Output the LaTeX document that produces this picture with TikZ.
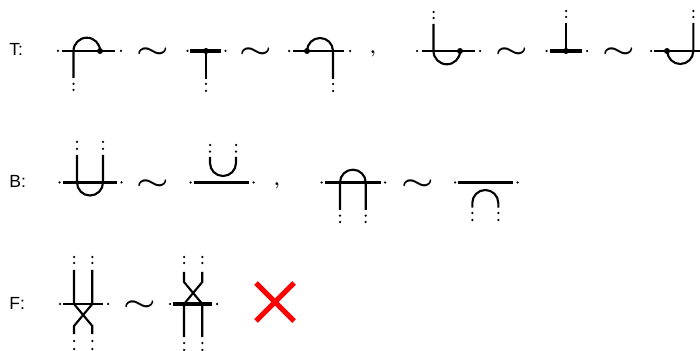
\documentclass[tikz,border=0pt]{standalone}
\usepackage{fontspec}
\usepackage{graphicx}
\setmainfont{Liberation Sans}

\newcommand{\simglyph}{\scalebox{1}[0.68]{\boldmath$\sim$}}

\tikzset{
    strand/.style={line width=1.2pt},
    bar/.style={line width=1.35pt},
    thickbar/.style={line width=2.2pt},
    midbar/.style={line width=1.7pt},
    thinbar/.style={line width=1.15pt},
    lbl/.style={inner sep=0pt, font=\fontsize{10}{12}\selectfont},
    tilde/.style={inner sep=0pt, yshift=-1pt, font=\huge},
    commamark/.style={inner sep=0pt, yshift=-1.6pt, font=\boldmath}
}

\begin{document}
\begin{tikzpicture}[x=0.02cm, y=-0.02cm, line cap=butt]

    % Parameters
    \def\yT{51}
    \def\yB{182.5}
    \def\yF{304}
    \def\rArc{13}
    \def\rDot{3}
    \def\rTick{1.25}

    \useasboundingbox (0,0) rectangle (700,351);

    % Row labels
    \node[lbl, anchor=west] (labT) at (9,49) {T:};
    \node[lbl, anchor=west] (labB) at (9,181) {B:};
    \node[lbl, anchor=west] (labF) at (9,303) {F:};

    % Tildes
    \node[tilde] (simA) at (152.5,\yT) {\simglyph};
    \node[tilde] (simB) at (255.5,\yT) {\simglyph};
    \node[tilde] (simC) at (511.5,\yT) {\simglyph};
    \node[tilde] (simD) at (618.5,\yT) {\simglyph};
    \node[tilde] (simE) at (152.5,183) {\simglyph};
    \node[tilde] (simF) at (417.5,183) {\simglyph};
    \node[tilde] (simG) at (139.5,\yF) {\simglyph};

    % Commas
    \node[commamark] (comA) at (373,51) {$,$};
    \node[commamark] (comB) at (277,183) {$,$};

    % Ticks at the ends of the strands
    \foreach \x/\y in {
        58/\yT, 121/\yT, 187.5/\yT, 225.5/\yT, 289/\yT, 350/\yT,
        417/\yT, 480/\yT, 546.7/\yT, 587/\yT, 651/\yT,
        73.5/84, 73.5/90, 206/84, 206/91, 333/84, 333/91,
        433.5/12, 433.5/18, 566/11, 566/17, 693.3/11, 693.3/17,
        59.5/\yB, 121.5/\yB, 190.5/\yB, 253.5/\yB,
        321.7/\yB, 385/\yB, 455/\yB, 517.7/\yB,
        77/142, 77/149, 103/142, 103/149, 210/145, 210/151.7, 236/145, 236/151.7,
        340/215.7, 340/222, 365.7/215.7, 365.7/222,
        472.3/213, 472.3/220, 498.3/213, 498.3/220,
        60/\yF, 108/\yF, 170/\yF, 217/\yF,
        74/257, 74/263, 92.3/257, 92.3/263, 74/341, 74/349, 92.3/341, 92.3/349,
        184/257, 184/263, 202.3/257, 202.3/263, 184/343, 184/350, 202.3/343, 202.3/350
    } {
        \fill (\x,\y) circle (\rTick);
    }

    % T, first triple
    \draw[bar] (62,\yT) -- (115,\yT);
    \draw[strand] (73.5,78) -- (73.5,\yT) arc[start angle=180, end angle=360, radius=\rArc+0.3];
    \fill (100,\yT) circle (\rDot);

    \draw[thickbar] (190,\yT) -- (221,\yT);
    \draw[strand] (206,\yT) -- (206,79);
    \fill (206,\yT) circle (\rDot);

    \draw[bar] (293,\yT) -- (344,\yT);
    \draw[strand] (333,79) -- (333,\yT) arc[start angle=360, end angle=180, radius=\rArc];
    \fill (307,\yT) circle (\rDot);

    % T, second triple
    \draw[bar] (421.5,\yT) -- (475,\yT);
    \draw[strand] (433.5,24) -- (433.5,\yT) arc[start angle=180, end angle=0, radius=\rArc+0.3];
    \fill (460,\yT) circle (\rDot);

    \draw[thickbar] (550,\yT) -- (582,\yT);
    \draw[strand] (566,23) -- (566,\yT);
    \fill (566,\yT) circle (\rDot);

    \draw[bar] (654,\yT) -- (700,\yT);
    \draw[strand] (693.3,23) -- (693.3,\yT) arc[start angle=0, end angle=180, radius=\rArc];
    \fill (667,\yT) circle (\rDot);

    % B, cup
    \draw[midbar] (63,\yB) -- (117,\yB);
    \draw[strand] (77,155) -- (77,\yB) arc[start angle=180, end angle=0, radius=\rArc] -- (103,155);

    \draw[thinbar] (194,\yB) -- (249,\yB);
    \draw[strand] (210,157) -- (210,163) arc[start angle=180, end angle=0, radius=\rArc] -- (236,157);

    % B, cap
    \draw[midbar] (325,\yB) -- (381,\yB);
    \draw[strand] (340,210) -- (340,\yB) arc[start angle=180, end angle=360, radius=12.85] -- (365.7,210);

    \draw[thinbar] (458,\yB) -- (513,\yB);
    \draw[strand] (472.3,207.7) -- (472.3,203) arc[start angle=180, end angle=360, radius=\rArc] -- (498.3,207.7);

    % F, crossing below
    \draw[bar] (63,\yF) -- (103,\yF);
    \draw[strand] (74,270) -- (74,\yF) -- (92.3,326) -- (92.3,334);
    \draw[strand] (92.3,270) -- (92.3,\yF) -- (74,326) -- (74,334);

    % F, crossing above
    \draw[thickbar] (173,\yF) -- (212,\yF);
    \draw[strand] (184,337) -- (184,\yF) -- (202.3,282) -- (202.3,272);
    \draw[strand] (202.3,337) -- (202.3,\yF) -- (184,282) -- (184,272);

    % Red cross
    \draw[red, line width=3pt] (256,283) -- (294,321);
    \draw[red, line width=3pt] (294,283) -- (256,321);

\end{tikzpicture}
\end{document}
